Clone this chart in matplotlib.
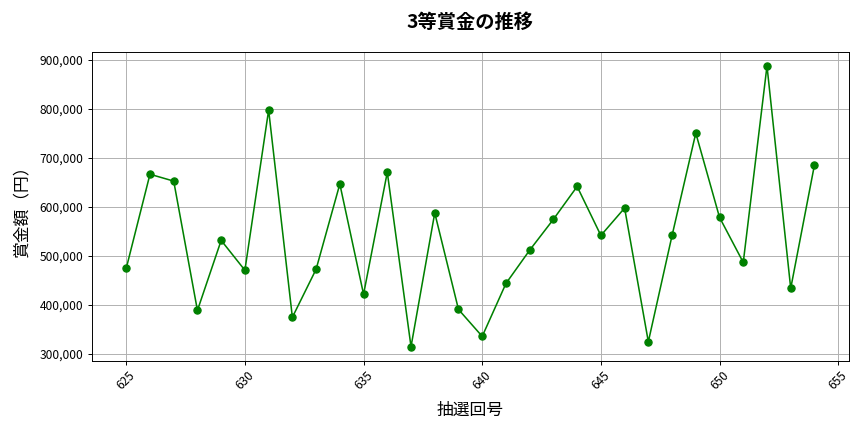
import matplotlib
matplotlib.use('Agg')
import matplotlib.pyplot as plt
from matplotlib.ticker import FuncFormatter

plt.rcParams['font.family'] = ['Noto Sans CJK JP', 'DejaVu Sans']

# 抽選回と3等賞金（円）
draws = list(range(625, 655))
prizes = [474000, 666000, 652000, 388000, 531000, 470000, 797000, 374000,
          472000, 646000, 421000, 670000, 314000, 587000, 390000, 335000,
          443000, 511000, 574000, 641000, 541000, 597000, 324000, 541000,
          750000, 578000, 486000, 887000, 433000, 685000]

fig, ax = plt.subplots(figsize=(10, 5), dpi=86.4)

ax.plot(draws, prizes, color='green', marker='o', markersize=6, linewidth=1.3)

ax.set_title('3等賞金の推移', fontsize=16, fontweight='bold', pad=20)
ax.set_xlabel('抽選回号', fontsize=14, labelpad=8)
ax.set_ylabel('賞金額（円）', fontsize=14, labelpad=8)
ax.yaxis.set_major_formatter(FuncFormatter(lambda v, p: f'{int(v):,}'))
ax.tick_params(axis='x', rotation=45)
ax.tick_params(labelsize=10)
ax.grid(True, color='#b0b0b0', linewidth=0.8)

plt.tight_layout()
plt.savefig('out.png', dpi=86.4)
